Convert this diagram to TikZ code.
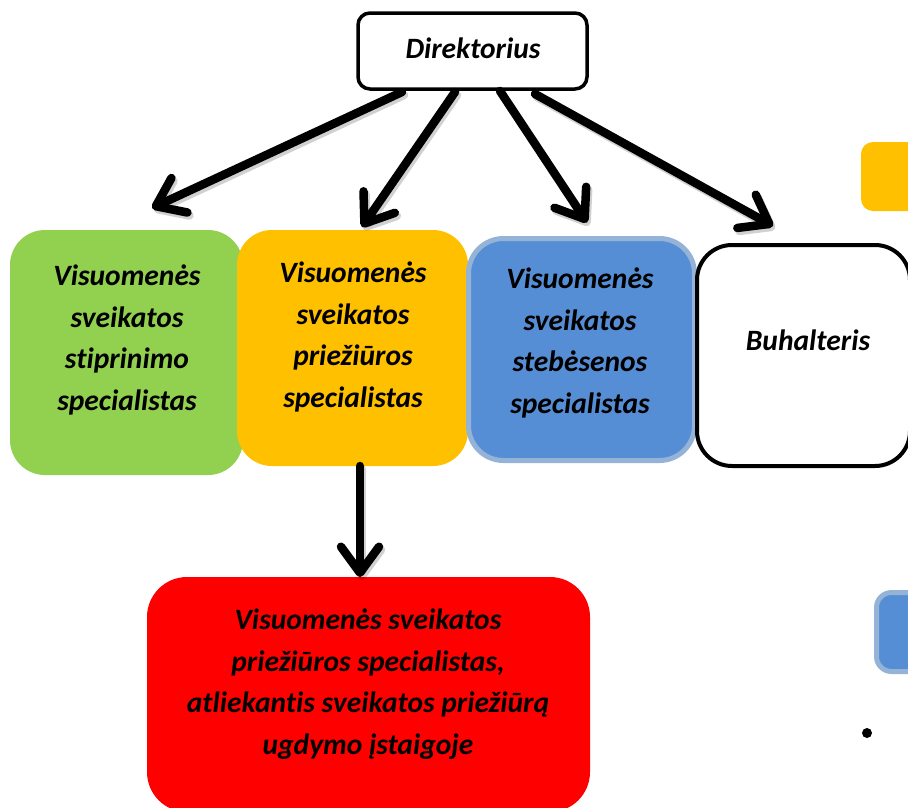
\documentclass[tikz,border=0pt]{standalone}
\usepackage{fontspec}
\setmainfont{Carlito}[Ligatures=NoCommon]
\usetikzlibrary{arrows.meta}
\definecolor{cgreen}{HTML}{92D050}
\definecolor{corange}{HTML}{FFC000}
\definecolor{cblue}{HTML}{558ED5}
\definecolor{cbluel}{HTML}{95B3D7}
\definecolor{cred}{HTML}{FF0000}
\begin{document}
\begin{tikzpicture}[x=1pt,y=-1pt,
  box/.style={rounded corners=35pt, inner sep=0pt, outer sep=0pt},
  lbl/.style={font=\fontsize{29.5}{41.5}\selectfont\bfseries\itshape, align=center, inner sep=0pt},
  arr/.style={line width=8.5pt, line cap=round, -{Straight Barb[length=26pt,width=38pt,round]}},
  shd/.style={arr, draw=black, opacity=0.18, transform canvas={shift={(2pt,-3pt)}}}
]
\useasboundingbox (0,0) rectangle (908,807);
\clip (0,0) rectangle (908,807);
\fill[white] (0,0) rectangle (908,807);
% boxes
\node[box, rounded corners=12pt, draw=black, line width=3.5pt, fill=white, minimum width=229pt, minimum height=76pt] (dir) at (472.5,51) {};
\node[box, fill=cgreen, minimum width=233pt, minimum height=245pt] (green) at (126.5,352.5) {};
\node[box, fill=corange, minimum width=231pt, minimum height=236pt] (orange) at (352.5,348) {};
\node[box, fill=cblue, draw=cbluel, line width=5pt, minimum width=226pt, minimum height=222pt] (blue) at (581.5,349.5) {};
\node[box, fill=white, draw=black, line width=4pt, minimum width=213pt, minimum height=221pt] (buh) at (803.5,355.5) {};
\node[box, rounded corners=40pt, fill=cred, minimum width=443pt, minimum height=235pt] (red) at (368.5,694.5) {};
\node[box, rounded corners=12pt, fill=corange, minimum width=99pt, minimum height=69pt] (ors) at (910.5,176.5) {};
\node[box, rounded corners=15pt, fill=cblue, draw=cbluel, line width=5pt, minimum width=87pt, minimum height=79pt] (bls) at (920,632) {};
\fill (867,733) circle (5pt);
% labels
\node[lbl] (tdir) at (473,48) {Direktorius};
\node[lbl] (tgreen) at (127,340) {Visuomenės\\sveikatos\\stiprinimo\\specialistas};
\node[lbl] (torange) at (353,337) {Visuomenės\\sveikatos\\priežiūros\\specialistas};
\node[lbl] (tblue) at (580,343) {Visuomenės\\sveikatos\\stebėsenos\\specialistas};
\node[lbl] (tbuh) at (808,340) {Buhalteris};
\node[lbl] (tred) at (368,684) {Visuomenės sveikatos\\priežiūros specialistas,\\atliekantis sveikatos priežiūrą\\ugdymo įstaigoje};
% arrow shadows
\draw[shd] ([xshift=-70.5pt,yshift=-3pt]dir.south) -- ([xshift=25.5pt,yshift=22pt]green.north);
\draw[shd] ([xshift=-17.5pt,yshift=-3pt]dir.south) -- ([xshift=9.5pt,yshift=3pt]orange.north);
\draw[shd] ([xshift=27.5pt,yshift=-2pt]dir.south) -- ([xshift=5.5pt,yshift=16pt]blue.north);
\draw[shd] ([xshift=62.5pt,yshift=-5pt]dir.south) -- ([xshift=-30.5pt,yshift=19pt]buh.north);
\draw[shd] ([xshift=7.5pt]orange.south) -- ([xshift=-8.5pt]red.north);
% arrows
\draw[arr] ([xshift=-70.5pt,yshift=-3pt]dir.south) -- ([xshift=25.5pt,yshift=22pt]green.north);
\draw[arr] ([xshift=-17.5pt,yshift=-3pt]dir.south) -- ([xshift=9.5pt,yshift=3pt]orange.north);
\draw[arr] ([xshift=27.5pt,yshift=-2pt]dir.south) -- ([xshift=5.5pt,yshift=16pt]blue.north);
\draw[arr] ([xshift=62.5pt,yshift=-5pt]dir.south) -- ([xshift=-30.5pt,yshift=19pt]buh.north);
\draw[arr] ([xshift=7.5pt]orange.south) -- ([xshift=-8.5pt]red.north);
\end{tikzpicture}
\end{document}
